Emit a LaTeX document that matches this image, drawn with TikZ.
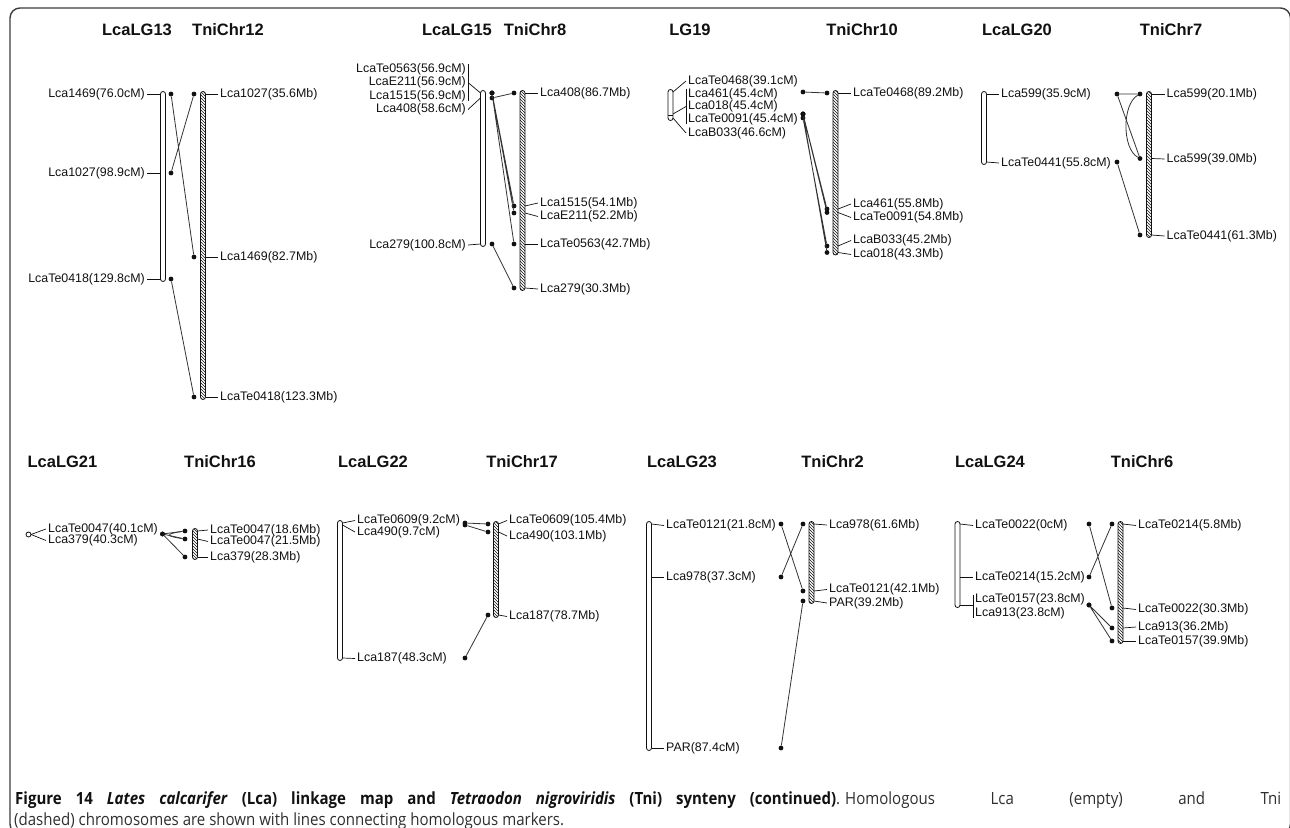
\documentclass[tikz,border=0pt]{standalone}
\usepackage{fontspec}
\setmainfont{Liberation Sans}
\newfontfamily\capfont[FakeStretch=0.895]{Open Sans}
\usetikzlibrary{patterns}
\definecolor{ink}{HTML}{111111}
\definecolor{linkgray}{HTML}{333333}
\definecolor{framegray}{HTML}{3C3C3C}
\definecolor{captext}{HTML}{2E2E2E}
\newcommand{\mkfont}{\fontsize{12.4}{14}\selectfont}
\newcommand{\ttlfont}{\fontsize{16.5}{20}\selectfont\bfseries}
\newcommand{\capsize}{\capfont\fontsize{16.8}{20}\selectfont}
\tikzset{
  every node/.style={font=\mkfont,text=ink},
  mkr/.style={inner sep=2pt},
  ttl/.style={font=\ttlfont},
  lcachr/.style={draw=ink,line width=0.8pt,fill=white,rounded corners=2.5pt},
  tnichr/.style={draw=ink,line width=0.8pt,pattern=north west lines,pattern color=ink,rounded corners=2.5pt},
  mdot/.style={circle,fill=ink,inner sep=0pt,minimum size=4.8pt},
  link/.style={line width=0.8pt,draw=linkgray},
  mtick/.style={line width=0.7pt,draw=ink},
  capt/.style={font=\capsize,text=captext,inner sep=0pt,anchor=west},
}

\begin{document}
\begin{tikzpicture}[x=1pt,y=-1pt]
  \useasboundingbox (0,0) rectangle (1290,827);
  \draw[framegray,line width=1.4pt,rounded corners=10pt] (10,8) rectangle (1290.5,834);

  % ---------- LcaLG13 / TniChr12 ----------
  \node[ttl] (tlg13) at (137,30) {LcaLG13};
  \node[ttl] (tchr12) at (228,30) {TniChr12};
  \draw[lcachr] (160.5,91.5) rectangle (165.5,281.5);
  \draw[tnichr] (200.5,91.5) rectangle (205.5,399.5);
  \foreach \i/\yy/\lab in {1/94/{Lca1469(76.0cM)},2/173/{Lca1027(98.9cM)},3/279/{LcaTe0418(129.8cM)}} {
    \coordinate (lg13m\i) at (160.5,\yy);
    \node[mkr,anchor=east] (lg13l\i) at (147,\yy) {\lab};
    \draw[mtick] (lg13l\i.east) -- (lg13m\i);
    \node[mdot] (lg13d\i) at (171,\yy) {};
  }
  \foreach \i/\yy/\lab in {1/94/{Lca1027(35.6Mb)},2/257/{Lca1469(82.7Mb)},3/397/{LcaTe0418(123.3Mb)}} {
    \coordinate (chr12m\i) at (205.5,\yy);
    \node[mkr,anchor=west] (chr12l\i) at (218,\yy) {\lab};
    \draw[mtick] (chr12m\i) -- (chr12l\i.west);
    \node[mdot] (chr12d\i) at (194,\yy) {};
  }
  \draw[link] (lg13d1) -- (chr12d2) (lg13d2) -- (chr12d1) (lg13d3) -- (chr12d3);

  % ---------- LcaLG15 / TniChr8 ----------
  \node[ttl] (tlg15) at (457,30) {LcaLG15};
  \node[ttl] (tchr8) at (535,30) {TniChr8};
  \draw[lcachr] (480.5,90.5) rectangle (485.5,246.5);
  \draw[tnichr] (520,90.5) rectangle (525,290.5);
  \foreach \i/\yy/\ly/\lab in {1/93/69/{LcaTe0563(56.9cM)},2/93/82.5/{LcaE211(56.9cM)},3/93/96/{Lca1515(56.9cM)},
                               4/98/109.5/{Lca408(58.6cM)},5/244/245/{Lca279(100.8cM)}} {
    \coordinate (lg15m\i) at (480.5,\yy);
    \node[mkr,anchor=east] (lg15l\i) at (468,\ly) {\lab};
    \node[mdot] (lg15d\i) at (492,\yy) {};
  }
  \draw[mtick] ([yshift=-3pt]lg15l1.north east) -- ([yshift=3pt]lg15l3.south east);
  \draw[mtick] (lg15l2.east) -- (lg15m1);
  \draw[mtick] (lg15l4.east) -- (lg15m4);
  \draw[mtick] (lg15l5.east) -- (lg15m5);
  \foreach \i/\yy/\ly/\lab in {1/93/93/{Lca408(86.7Mb)},2/206/203/{Lca1515(54.1Mb)},3/213/216.5/{LcaE211(52.2Mb)},
                               4/244/244/{LcaTe0563(42.7Mb)},5/288/289/{Lca279(30.3Mb)}} {
    \coordinate (chr8m\i) at (525,\yy);
    \node[mkr,anchor=west] (chr8l\i) at (538,\ly) {\lab};
    \draw[mtick] (chr8m\i) -- (chr8l\i.west);
    \node[mdot] (chr8d\i) at (514,\yy) {};
  }
  \draw[link] (lg15d4) -- (chr8d1) (lg15d1) -- (chr8d2) (lg15d2) -- (chr8d3)
              (lg15d3) -- (chr8d4) (lg15d5) -- (chr8d5);

  % ---------- LG19 / TniChr10 ----------
  \node[ttl] (tlg19) at (690,30) {LG19};
  \node[ttl] (tchr10) at (862,30) {TniChr10};
  \draw[lcachr] (668,89.5) rectangle (673,120.5);
  \draw[mtick] (668,115.5) -- (673,115.5);
  \draw[tnichr] (833,90.5) rectangle (838,255);
  \foreach \i/\yy/\ly/\lab in {1/92/81/{LcaTe0468(39.1cM)},2/114/94/{Lca461(45.4cM)},3/114/106.5/{Lca018(45.4cM)},
                               4/114/119/{LcaTe0091(45.4cM)},5/118/133/{LcaB033(46.6cM)}} {
    \coordinate (lg19m\i) at (673,\yy);
    \node[mkr,anchor=west] (lg19l\i) at (686,\ly) {\lab};
    \node[mdot] (lg19d\i) at (803,\yy) {};
  }
  \draw[mtick] ([yshift=-3pt]lg19l2.north west) -- ([yshift=3pt]lg19l4.south west);
  \draw[mtick] (lg19m1) -- (lg19l1.west);
  \draw[mtick] (lg19m3) -- (lg19l3.west);
  \draw[mtick] (lg19m5) -- (lg19l5.west);
  \foreach \i/\yy/\ly/\lab in {1/93/93/{LcaTe0468(89.2Mb)},2/209/204/{Lca461(55.8Mb)},3/212.5/217.5/{LcaTe0091(54.8Mb)},
                               4/246/240.5/{LcaB033(45.2Mb)},5/252.5/254.5/{Lca018(43.3Mb)}} {
    \coordinate (chr10m\i) at (838,\yy);
    \node[mkr,anchor=west] (chr10l\i) at (851,\ly) {\lab};
    \draw[mtick] (chr10m\i) -- (chr10l\i.west);
    \node[mdot] (chr10d\i) at (827,\yy) {};
  }
  \draw[link] (lg19d1) -- (chr10d1) (lg19d2) -- (chr10d2) (lg19d4) -- (chr10d3)
              (lg19d5) -- (chr10d4) (lg19d3) -- (chr10d5);

  % ---------- LcaLG20 / TniChr7 ----------
  \node[ttl] (tlg20) at (1017,30) {LcaLG20};
  \node[ttl] (tchr7) at (1171,30) {TniChr7};
  \draw[lcachr] (981.5,91.5) rectangle (986.5,164.5);
  \draw[tnichr] (1146.5,91.5) rectangle (1151.5,237.5);
  \foreach \i/\yy/\ly/\lab in {1/94/94/{Lca599(35.9cM)},2/162/163/{LcaTe0441(55.8cM)}} {
    \coordinate (lg20m\i) at (986.5,\yy);
    \node[mkr,anchor=west] (lg20l\i) at (999,\ly) {\lab};
    \draw[mtick] (lg20m\i) -- (lg20l\i.west);
    \node[mdot] (lg20d\i) at (1117,\yy) {};
  }
  \foreach \i/\yy/\ly/\lab in {1/94/94/{Lca599(20.1Mb)},2/158.5/159/{Lca599(39.0Mb)},3/235/236/{LcaTe0441(61.3Mb)}} {
    \coordinate (chr7m\i) at (1151.5,\yy);
    \node[mkr,anchor=west] (chr7l\i) at (1164.5,\ly) {\lab};
    \draw[mtick] (chr7m\i) -- (chr7l\i.west);
    \node[mdot] (chr7d\i) at (1140,\yy) {};
  }
  \draw[link] (lg20d1) -- (chr7d1) (lg20d1) -- (chr7d2) (lg20d2) -- (chr7d3);
  \draw[link] (chr7d1) .. controls +(-18,10) and +(-18,-10) .. (chr7d2);

  % ---------- LcaLG21 / TniChr16 ----------
  \node[ttl] (tlg21) at (62.5,462) {LcaLG21};
  \node[ttl] (tchr16) at (220,462) {TniChr16};
  \draw[lcachr] (26,532) rectangle (31,537);
  \draw[tnichr] (192.5,528.5) rectangle (197.5,559.5);
  \foreach \i/\yy/\ly/\lab in {1/534.5/529/{LcaTe0047(40.1cM)},2/534.5/540.5/{Lca379(40.3cM)}} {
    \coordinate (lg21m\i) at (31,\yy);
    \node[mkr,anchor=west] (lg21l\i) at (46,\ly) {\lab};
    \draw[mtick] (lg21m\i) -- (lg21l\i.west);
    \node[mdot] (lg21d\i) at (162.5,534) {};
  }
  \foreach \i/\yy/\ly/\lab in {1/531/530/{LcaTe0047(18.6Mb)},2/539/541.5/{LcaTe0047(21.5Mb)},3/557/557/{Lca379(28.3Mb)}} {
    \coordinate (chr16m\i) at (197.5,\yy);
    \node[mkr,anchor=west] (chr16l\i) at (208,\ly) {\lab};
    \draw[mtick] (chr16m\i) -- (chr16l\i.west);
    \node[mdot] (chr16d\i) at (185,\yy) {};
  }
  \draw[link] (lg21d1) -- (chr16d1) (lg21d1) -- (chr16d2) (lg21d2) -- (chr16d3);
  \draw[link] (chr16d1) .. controls +(-20,3) and +(-20,-3) .. (chr16d2);

  % ---------- LcaLG22 / TniChr17 ----------
  \node[ttl] (tlg22) at (373,462) {LcaLG22};
  \node[ttl] (tchr17) at (522,462) {TniChr17};
  \draw[lcachr] (337.5,520.5) rectangle (342.5,660.5);
  \draw[tnichr] (493.5,521.5) rectangle (498.5,617.5);
  \foreach \i/\yy/\ly/\lab in {1/523/520.5/{LcaTe0609(9.2cM)},2/525/532/{Lca490(9.7cM)},3/658/658.5/{Lca187(48.3cM)}} {
    \coordinate (lg22m\i) at (342.5,\yy);
    \node[mkr,anchor=west] (lg22l\i) at (355,\ly) {\lab};
    \draw[mtick] (lg22m\i) -- (lg22l\i.west);
    \node[mdot] (lg22d\i) at (465,\yy) {};
  }
  \foreach \i/\yy/\ly/\lab in {1/524/520.5/{LcaTe0609(105.4Mb)},2/532/536/{Lca490(103.1Mb)},3/615/616.5/{Lca187(78.7Mb)}} {
    \coordinate (chr17m\i) at (498.5,\yy);
    \node[mkr,anchor=west] (chr17l\i) at (507,\ly) {\lab};
    \draw[mtick] (chr17m\i) -- (chr17l\i.west);
    \node[mdot] (chr17d\i) at (488,\yy) {};
  }
  \draw[link] (lg22d1) -- (chr17d1) (lg22d2) -- (chr17d2) (lg22d3) -- (chr17d3);

  % ---------- LcaLG23 / TniChr2 ----------
  \node[ttl] (tlg23) at (682,462) {LcaLG23};
  \node[ttl] (tchr2) at (832.5,462) {TniChr2};
  \draw[lcachr] (646.5,521.5) rectangle (651.5,750.5);
  \draw[tnichr] (809,521.5) rectangle (814,603.5);
  \foreach \i/\yy/\ly/\lab in {1/524/525.5/{LcaTe0121(21.8cM)},2/577/577/{Lca978(37.3cM)},3/748/748/{PAR(87.4cM)}} {
    \coordinate (lg23m\i) at (651.5,\yy);
    \node[mkr,anchor=west] (lg23l\i) at (664,\ly) {\lab};
    \draw[mtick] (lg23m\i) -- (lg23l\i.west);
    \node[mdot] (lg23d\i) at (781,\yy) {};
  }
  \foreach \i/\yy/\ly/\lab in {1/524/525/{Lca978(61.6Mb)},2/591/589.5/{LcaTe0121(42.1Mb)},3/601/603/{PAR(39.2Mb)}} {
    \coordinate (chr2m\i) at (814,\yy);
    \node[mkr,anchor=west] (chr2l\i) at (827,\ly) {\lab};
    \draw[mtick] (chr2m\i) -- (chr2l\i.west);
    \node[mdot] (chr2d\i) at (803,\yy) {};
  }
  \draw[link] (lg23d1) -- (chr2d2) (lg23d2) -- (chr2d1) (lg23d3) -- (chr2d3);

  % ---------- LcaLG24 / TniChr6 ----------
  \node[ttl] (tlg24) at (990,462) {LcaLG24};
  \node[ttl] (tchr6) at (1142,462) {TniChr6};
  \draw[lcachr] (955,521.5) rectangle (960,607.5);
  \draw[tnichr] (1118,521.5) rectangle (1123,643.5);
  \foreach \i/\yy/\ly/\lab in {1/524/525.5/{LcaTe0022(0cM)},2/577/577/{LcaTe0214(15.2cM)},
                               3/605/599.5/{LcaTe0157(23.8cM)},4/605/613/{Lca913(23.8cM)}} {
    \coordinate (lg24m\i) at (960,\yy);
    \node[mkr,anchor=west] (lg24l\i) at (973,\ly) {\lab};
    \node[mdot] (lg24d\i) at (1089,\yy) {};
  }
  \draw[mtick] (lg24m1) -- (lg24l1.west);
  \draw[mtick] (lg24m2) -- (lg24l2.west);
  \draw[mtick] ([yshift=-3pt]lg24l3.north west) -- ([yshift=3pt]lg24l4.south west);
  \draw[mtick] (lg24m3) -- (lg24m3 -| lg24l3.west);
  \foreach \i/\yy/\ly/\lab in {1/524/525.5/{LcaTe0214(5.8Mb)},2/608/609.5/{LcaTe0022(30.3Mb)},
                               3/628/627/{Lca913(36.2Mb)},4/641/641/{LcaTe0157(39.9Mb)}} {
    \coordinate (chr6m\i) at (1123,\yy);
    \node[mkr,anchor=west] (chr6l\i) at (1136,\ly) {\lab};
    \draw[mtick] (chr6m\i) -- (chr6l\i.west);
    \node[mdot] (chr6d\i) at (1112,\yy) {};
  }
  \draw[link] (lg24d1) -- (chr6d2) (lg24d2) -- (chr6d1) (lg24d4) -- (chr6d3) (lg24d3) -- (chr6d4);

  % ---------- caption ----------
  \node[capt] (cap1) at (15,800) {\makebox[821pt][s]{\bfseries\color{ink}Figure 14 \textit{Lates calcarifer}
        (Lca) linkage map and \textit{Tetraodon nigroviridis} (Tni) synteny (continued)}%
        \makebox[445pt][s]{.\hspace{5pt}Homologous Lca (empty) and Tni}};
  \node[capt] (cap2) at (14,821) {(dashed) chromosomes are shown with lines connecting homologous markers.};
\end{tikzpicture}
\end{document}
